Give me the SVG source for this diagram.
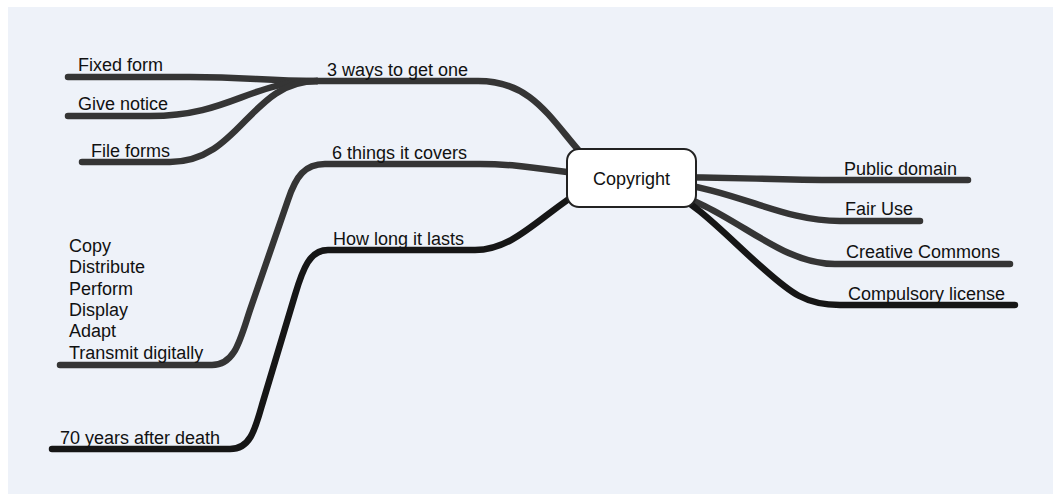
<svg xmlns="http://www.w3.org/2000/svg" width="1053" height="495" viewBox="0 0 1053 495">
<style>
.ln{fill:none;stroke:#353535;stroke-width:6.5;stroke-linecap:round;stroke-linejoin:round}
.dk{stroke:#161616}
.t{font-family:"Liberation Sans",Arial,Helvetica,sans-serif;font-size:18px;fill:#111}
.box{fill:#fff;stroke:#222;stroke-width:2}
</style>
<rect x="0" y="0" width="1053" height="495" fill="#fff"/>
<rect x="8" y="7" width="1045" height="487" fill="#eef2f9"/>
<g id="connectors">
<path class="ln" d="M68,77 H190 C250,77 262,81 317,81"/>
<path class="ln" d="M68,116 H150 C230,116 250,81 317,81"/>
<path class="ln" d="M82,162 H170 C240,162 250,81 317,81"/>
<path class="ln" d="M317,81 H478 C530,81 548,115 580,152 L600,175"/>
<path class="ln" d="M60,365 H212 C235,365 240,340 250,310 L288,200 C296,176 305,164 325,164 H480 C520,164 545,170 600,176"/>
<path class="ln dk" d="M52,449 H230 C250,449 255,430 262,405 L295,295 C303,268 310,250 328,250 H475 C515,250 540,215 590,185"/>
<path class="ln" d="M650,177 C750,177 760,180 840,180 H968"/>
<path class="ln" d="M660,181 C740,190 780,221 840,221 H920"/>
<path class="ln" d="M660,190 C730,205 775,264 835,264 H1010"/>
<path class="ln dk" d="M660,185 C700,205 730,240 765,270 C790,292 805,305 840,305 H1015"/>
</g>
<g id="copyright">
<rect class="box" x="567" y="149" width="129" height="58" rx="12"/>
<text class="t" x="631.5" y="184.5" text-anchor="middle">Copyright</text>
</g>
<g id="ways"><text class="t" x="327" y="76">3 ways to get one</text></g>
<g id="fixed"><text class="t" x="78" y="71">Fixed form</text></g>
<g id="notice"><text class="t" x="78" y="110">Give notice</text></g>
<g id="file"><text class="t" x="91" y="157">File forms</text></g>
<g id="covers"><text class="t" x="332" y="158.5">6 things it covers</text></g>
<g id="things">
<text class="t" x="69" y="252">Copy</text>
<text class="t" x="69" y="273.3">Distribute</text>
<text class="t" x="69" y="294.6">Perform</text>
<text class="t" x="69" y="316">Display</text>
<text class="t" x="69" y="337.3">Adapt</text>
<text class="t" x="69" y="358.6">Transmit digitally</text>
</g>
<g id="lasts"><text class="t" x="333" y="245">How long it lasts</text></g>
<g id="seventy"><text class="t" x="60" y="444">70 years after death</text></g>
<g id="public"><text class="t" x="844" y="175">Public domain</text></g>
<g id="fair"><text class="t" x="845" y="215">Fair Use</text></g>
<g id="cc"><text class="t" x="846" y="258">Creative Commons</text></g>
<g id="compulsory"><text class="t" x="848" y="300">Compulsory license</text></g>
</svg>
